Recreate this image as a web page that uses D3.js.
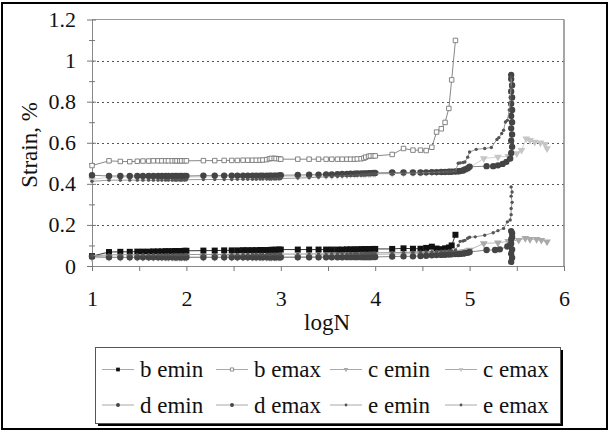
<!DOCTYPE html>
<html><head><meta charset="utf-8">
<script src="https://cdn.jsdelivr.net/npm/d3@7"></script>
<style>
body{margin:0;background:#fff}
svg{display:block}
text{font-family:"Liberation Serif","Times New Roman",serif;fill:#111}
</style>
</head><body>
<svg id="c" width="609" height="434"></svg>
<script>
// ---- data ----
const logN = [1,1.18,1.3,1.4,1.48,1.54,1.6,1.65,1.7,1.74,1.78,1.81,1.85,1.88,1.9,1.93,1.95,1.98,
2,2.18,2.3,2.4,2.48,2.54,2.6,2.65,2.7,2.74,2.78,2.81,2.85,2.88,2.9,2.93,2.95,2.98,
3,3.18,3.3,3.4,3.48,3.54,3.6,3.65,3.7,3.74,3.78,3.81,3.85,3.88,3.9,3.93,3.95,3.98,
4,4.18,4.3,4.4,4.48,4.54,4.6,4.65,4.7,4.74,4.78,4.81,4.85,4.88,4.9,4.93,4.95,4.98,5];

const yTicks = [0,0.2,0.4,0.6,0.8,1,1.2];
const yTickLabels = ["0","0.2","0.4","0.6","0.8","1","1.2"];
const yMinorTicks = [0.1,0.3,0.5,0.7,0.9,1.1];
const xTicks = [1,2,3,4,5,6];
const xMinorTicks = [1.5,2.5,3.5,4.5,5.5];
const seriesNames = ["b emin","b emax","c emin","c emax","d emin","d emax","e emin","e emax"];

const bEmin = [0.048,0.068,0.069,0.069,0.070,0.070,0.070,0.071,0.071,0.071,0.072,0.072,0.072,0.073,0.073,0.073,0.073,0.074,
0.074,0.075,0.075,0.076,0.076,0.076,0.077,0.077,0.077,0.077,0.078,0.078,0.078,0.078,0.079,0.079,0.079,0.080,
0.080,0.080,0.080,0.080,0.080,0.080,0.080,0.080,0.081,0.081,0.081,0.081,0.082,0.082,0.082,0.082,0.082,0.083,
0.083,0.083,0.086,0.084,0.084,0.088,0.094,0.085,0.082,0.086,0.090,0.100,0.152];
const bEminTail = [];

const bEmax = [0.489,0.512,0.509,0.508,0.510,0.511,0.511,0.512,0.512,0.512,0.512,0.512,0.512,0.512,0.512,0.512,0.512,0.512,
0.512,0.513,0.513,0.514,0.514,0.514,0.515,0.515,0.515,0.515,0.515,0.516,0.518,0.522,0.524,0.524,0.523,0.522,
0.520,0.520,0.520,0.520,0.520,0.520,0.520,0.520,0.520,0.520,0.520,0.521,0.522,0.525,0.530,0.534,0.536,0.536,
0.536,0.543,0.572,0.564,0.564,0.562,0.578,0.652,0.668,0.699,0.767,0.906,1.098];
const bEmaxTail = [];

const cEmin = [0.040,0.042,0.042,0.042,0.042,0.042,0.042,0.042,0.042,0.042,0.042,0.042,0.042,0.042,0.042,0.042,0.042,0.042,
0.043,0.043,0.043,0.043,0.043,0.043,0.043,0.043,0.043,0.043,0.043,0.043,0.043,0.043,0.043,0.043,0.043,0.043,
0.044,0.045,0.046,0.047,0.048,0.049,0.050,0.050,0.051,0.051,0.052,0.052,0.053,0.053,0.054,0.054,0.055,0.055,
0.056,0.058,0.059,0.060,0.060,0.061,0.062,0.062,0.063,0.063,0.064,0.065,0.066,0.067,0.068,0.070,0.072,0.074,0.078];
const cEminTail = [[5.15,0.110],[5.30,0.113],[5.41,0.120],[5.52,0.126],[5.59,0.135],[5.64,0.130],[5.71,0.130],[5.76,0.126],[5.82,0.118]];

const cEmax = [0.421,0.432,0.432,0.432,0.432,0.432,0.432,0.432,0.432,0.432,0.432,0.432,0.432,0.432,0.432,0.432,0.432,0.432,
0.433,0.434,0.434,0.434,0.434,0.434,0.434,0.434,0.434,0.434,0.434,0.434,0.434,0.434,0.434,0.434,0.434,0.434,
0.436,0.437,0.438,0.439,0.440,0.441,0.442,0.443,0.444,0.445,0.446,0.447,0.448,0.448,0.449,0.449,0.450,0.450,
0.451,0.452,0.453,0.454,0.455,0.456,0.457,0.458,0.459,0.460,0.461,0.462,0.463,0.464,0.466,0.468,0.470,0.474,0.480];
const cEmaxTail = [[5.15,0.523],[5.30,0.531],[5.41,0.534],[5.50,0.548],[5.55,0.564],[5.60,0.620],[5.64,0.612],[5.69,0.604],[5.75,0.600],[5.80,0.593],[5.82,0.572]];

const dEmin = [0.046,0.043,0.042,0.042,0.042,0.042,0.042,0.042,0.042,0.042,0.042,0.042,0.042,0.042,0.042,0.042,0.042,0.042,
0.042,0.042,0.042,0.042,0.042,0.042,0.042,0.042,0.042,0.042,0.042,0.042,0.042,0.042,0.042,0.042,0.042,0.042,
0.042,0.042,0.042,0.042,0.042,0.042,0.042,0.042,0.043,0.043,0.043,0.043,0.043,0.043,0.043,0.043,0.043,0.044,
0.044,0.046,0.047,0.047,0.049,0.050,0.052,0.053,0.054,0.055,0.056,0.057,0.058,0.058,0.059,0.060,0.062,0.064,0.068];
const dEminTail = [[5.18,0.078],[5.27,0.078],[5.32,0.081],[5.40,0.095],[5.43,0.100],[5.44,0.130],[5.45,0.160],[5.44,0.170],[5.45,0.140],[5.44,0.110],[5.45,0.080],[5.44,0.060],[5.45,0.040],[5.44,0.020]];

const dEmax = [0.442,0.438,0.438,0.438,0.438,0.438,0.438,0.438,0.438,0.438,0.438,0.438,0.438,0.438,0.438,0.438,0.438,0.438,
0.438,0.440,0.440,0.440,0.440,0.440,0.440,0.440,0.440,0.440,0.440,0.440,0.440,0.440,0.440,0.440,0.440,0.441,
0.442,0.443,0.444,0.445,0.446,0.446,0.447,0.448,0.448,0.449,0.449,0.450,0.450,0.451,0.451,0.452,0.452,0.453,
0.453,0.455,0.455,0.455,0.455,0.456,0.457,0.457,0.458,0.458,0.459,0.459,0.460,0.461,0.462,0.465,0.470,0.476,0.483];
const dEmaxTail = [[5.18,0.486],[5.25,0.486],[5.30,0.490],[5.35,0.497],[5.39,0.507],[5.43,0.523],[5.44,0.55],[5.45,0.58],[5.44,0.61],[5.45,0.64],[5.44,0.67],[5.45,0.70],[5.44,0.73],[5.45,0.76],[5.44,0.79],[5.45,0.82],[5.44,0.85],[5.45,0.88],[5.44,0.91],[5.44,0.93]];

const eEmin = [0.050,0.054,0.055,0.055,0.055,0.055,0.055,0.055,0.055,0.055,0.055,0.055,0.055,0.055,0.055,0.055,0.055,0.055,
0.056,0.056,0.056,0.056,0.056,0.056,0.057,0.057,0.057,0.057,0.057,0.057,0.057,0.057,0.058,0.058,0.058,0.058,
0.058,0.058,0.059,0.059,0.059,0.060,0.060,0.060,0.060,0.061,0.061,0.061,0.062,0.062,0.062,0.062,0.063,0.063,
0.064,0.065,0.066,0.067,0.068,0.069,0.070,0.071,0.072,0.073,0.074,0.075,0.078,0.100,0.120,0.122,0.125,0.135,0.140];
const eEminTail = [[5.06,0.142],[5.16,0.150],[5.25,0.162],[5.30,0.172],[5.36,0.183],[5.40,0.215],[5.43,0.224],[5.44,0.25],[5.44,0.28],[5.45,0.31],[5.44,0.34],[5.45,0.36],[5.44,0.385]];

const eEmax = [0.412,0.418,0.418,0.418,0.418,0.418,0.418,0.418,0.418,0.418,0.418,0.418,0.418,0.418,0.418,0.418,0.418,0.418,
0.420,0.421,0.421,0.421,0.421,0.422,0.422,0.422,0.422,0.422,0.423,0.423,0.423,0.423,0.423,0.424,0.424,0.424,
0.426,0.428,0.430,0.432,0.434,0.436,0.437,0.438,0.439,0.440,0.441,0.442,0.443,0.444,0.445,0.446,0.447,0.448,
0.449,0.450,0.451,0.452,0.453,0.454,0.455,0.456,0.457,0.458,0.459,0.460,0.462,0.500,0.502,0.504,0.506,0.530,0.555];
const eEmaxTail = [[5.07,0.568],[5.16,0.572],[5.23,0.577],[5.29,0.616],[5.31,0.625],[5.34,0.645],[5.36,0.661],[5.38,0.701],[5.40,0.709],[5.42,0.76],[5.43,0.82],[5.44,0.87],[5.44,0.92]];

// ---- styles ----
const series = [
  {name:seriesNames[0], vals:bEmin, tail:bEminTail, line:"#333", sym:d3.symbolSquare, size:36, lsize:14, fill:"#111", stroke:"none", rot:0},
  {name:seriesNames[1], vals:bEmax, tail:bEmaxTail, line:"#888", sym:d3.symbolSquare, size:20, lsize:10, fill:"#fff", stroke:"#777", rot:0},
  {name:seriesNames[2], vals:cEmin, tail:cEminTail, line:"#bbb", sym:d3.symbolTriangle, size:26, lsize:10, fill:"#aaa", stroke:"none", rot:180},
  {name:seriesNames[3], vals:cEmax, tail:cEmaxTail, line:"#d2d2d2", sym:d3.symbolTriangle, size:26, lsize:10, fill:"#c6c6c6", stroke:"none", rot:180},
  {name:seriesNames[4], vals:dEmin, tail:dEminTail, line:"#888", sym:d3.symbolCircle, size:32, lsize:12, fill:"#444", stroke:"none", rot:0},
  {name:seriesNames[5], vals:dEmax, tail:dEmaxTail, line:"#888", sym:d3.symbolCircle, size:32, lsize:12, fill:"#444", stroke:"none", rot:0},
  {name:seriesNames[6], vals:eEmin, tail:eEminTail, line:"#999", sym:d3.symbolCircle, size:9, lsize:6, fill:"#555", stroke:"none", rot:0},
  {name:seriesNames[7], vals:eEmax, tail:eEmaxTail, line:"#999", sym:d3.symbolCircle, size:9, lsize:6, fill:"#555", stroke:"none", rot:0}
];

const svg = d3.select("#c");
const x = d3.scaleLinear().domain([1,6]).range([92,564]);
const y = d3.scaleLinear().domain([0,1.2]).range([266,19.5]);

// outer frame
svg.append("rect").attr("x",2).attr("y",3).attr("width",605).attr("height",426)
  .attr("fill","#fff").attr("stroke","#000").attr("stroke-width",2);

// gridlines
svg.append("g").selectAll("line").data(yTicks.filter(d=>d>0 && d<1.2)).join("line")
  .attr("x1",x(1)).attr("x2",x(6)).attr("y1",d=>Math.round(y(d))+0.5).attr("y2",d=>Math.round(y(d))+0.5)
  .attr("stroke","#555").attr("stroke-dasharray","2,3").attr("stroke-width",1);

// plot border top/right
svg.append("line").attr("x1",x(1)).attr("x2",x(6)).attr("y1",y(1.2)).attr("y2",y(1.2)).attr("stroke","#999").attr("stroke-width",1.2);
svg.append("line").attr("x1",x(6)).attr("x2",x(6)).attr("y1",y(1.2)).attr("y2",y(0)).attr("stroke","#888").attr("stroke-width",1.5);

// y axis
const yAxis = svg.append("g").attr("transform",`translate(${x(1)},0)`)
  .call(d3.axisLeft(y).tickValues(yTicks).tickFormat((d,i)=>yTickLabels[i]).tickSize(5).tickSizeOuter(0));
yAxis.select(".domain").attr("stroke","#888");
yAxis.selectAll(".tick line").attr("x1",4).attr("stroke","#777");
yAxis.selectAll(".tick text").attr("x",-16).attr("font-size",22).attr("fill","#111");
const yMinor = svg.append("g").attr("transform",`translate(${x(1)},0)`)
  .call(d3.axisLeft(y).tickValues(yMinorTicks).tickFormat("").tickSize(3).tickSizeOuter(0));
yMinor.select(".domain").remove();
yMinor.selectAll(".tick line").attr("x1",3).attr("stroke","#777");

// x axis
const xAxis = svg.append("g").attr("transform",`translate(0,${y(0)})`)
  .call(d3.axisBottom(x).tickValues(xTicks.concat(xMinorTicks)).tickFormat(d=>xTicks.includes(d)?String(d):"").tickSize(5).tickSizeOuter(0));
xAxis.select(".domain").attr("stroke","#888");
xAxis.selectAll(".tick line").attr("stroke","#777");
xAxis.selectAll(".tick text").attr("y",24).attr("font-size",22).attr("fill","#111");

// axis titles
svg.append("text").attr("x",327).attr("y",330).attr("text-anchor","middle").attr("font-size",23).text("logN");
svg.append("text").attr("transform","translate(37,145) rotate(-90)").attr("text-anchor","middle").attr("font-size",23).text("Strain, %");

// series
const lineGen = d3.line().x(d=>x(d[0])).y(d=>y(d[1]));
const plot = svg.append("g");
series.forEach(s=>{
  const pts = s.vals.map((v,i)=>[logN[i],v]).concat(s.tail);
  plot.append("path").attr("d",lineGen(pts)).attr("fill","none").attr("stroke",s.line).attr("stroke-width",1);
  plot.append("g").selectAll("path").data(pts).join("path")
    .attr("d",d3.symbol().type(s.sym).size(s.size))
    .attr("transform",d=>`translate(${x(d[0])},${y(d[1])}) rotate(${s.rot})`)
    .attr("fill",s.fill).attr("stroke",s.stroke).attr("stroke-width",0.9);
});

// legend
const lg = svg.append("g");
lg.append("rect").attr("x",98).attr("y",350).attr("width",465).attr("height",76).attr("fill","#000");
lg.append("rect").attr("x",95.5).attr("y",347.5).attr("width",465).attr("height",76).attr("fill","#fff").attr("stroke","#555").attr("stroke-width",1);
const colX = [102,216,330,445];
const rowY = [369.5,405];
series.forEach((s,i)=>{
  const cx = colX[i%4], cy = rowY[Math.floor(i/4)];
  lg.append("line").attr("x1",cx).attr("x2",cx+32).attr("y1",cy).attr("y2",cy).attr("stroke","#aaa").attr("stroke-width",1);
  lg.append("path").attr("d",d3.symbol().type(s.sym).size(s.lsize)())
    .attr("transform",`translate(${cx+16},${cy}) rotate(${s.rot})`)
    .attr("fill",s.fill).attr("stroke",s.stroke).attr("stroke-width",0.8);
  lg.append("text").attr("x",cx+38).attr("y",cy+7.5).attr("font-size",23).text(s.name);
});
</script>
</body></html>
